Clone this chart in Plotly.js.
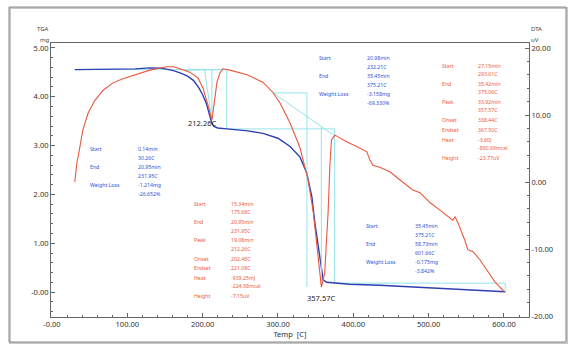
<!DOCTYPE html>
<html><head><meta charset="utf-8">
<script src="https://cdn.plot.ly/plotly-3.0.1.min.js"></script>
<style>html,body{margin:0;padding:0;background:#fff}#chart{width:577px;height:353px}</style>
</head><body><div id="chart"></div>
<script>
// ---------------- data ----------------
const tgaTemp = [30.3, 60, 90, 110, 130, 145, 160, 170, 180, 188, 195, 200, 205, 209, 212, 215, 220, 232, 260, 280, 300, 316, 329, 338, 345, 349, 353.5, 358, 360, 364.6, 375, 395, 435, 485, 550, 601.7];
const tgaMass = [4.555, 4.556, 4.558, 4.57, 4.59, 4.585, 4.54, 4.49, 4.42, 4.33, 4.18, 4.04, 3.86, 3.65, 3.47, 3.39, 3.36, 3.341, 3.30, 3.25, 3.15, 2.98, 2.77, 2.45, 1.95, 1.41, 0.93, 0.45, 0.25, 0.20, 0.183, 0.16, 0.14, 0.10, 0.04, 0.008];

const dtaTemp = [30.3, 31.5, 33, 37, 41, 48, 57, 68, 81, 94, 112, 130, 152, 161, 170, 183, 194, 200.5, 207, 212.3, 213.7, 216.4, 219, 223, 227, 236, 259, 280, 293, 302.7, 316, 329, 340, 347, 352, 355, 357.6, 362, 366.5, 369, 371, 375.7, 382, 391, 404.5, 418, 422, 426, 435, 449, 462, 479, 488.5, 502, 515, 528, 532, 535, 539, 548, 552, 559, 568, 577, 588, 600.5];
const dtaSignal = [0.0, 1.5, 2.8, 5.2, 7.8, 10.3, 12.2, 13.7, 14.8, 15.4, 16.1, 16.7, 17.2, 17.2, 16.9, 16.4, 15.5, 14.0, 11.5, 9.25, 10.4, 13.0, 14.9, 16.3, 16.9, 16.7, 16.0, 14.9, 13.4, 11.8, 8.8, 5.2, 0.3, -4.6, -9.7, -13.6, -15.7, -13.6, -4.6, 2.8, 6.3, 7.0, 6.6, 6.0, 5.3, 4.5, 3.3, 2.5, 2.2, 1.5, 0.3, -1.2, -1.6, -3.1, -4.2, -5.4, -5.7, -5.2, -6.1, -8.7, -10.1, -10.4, -11.6, -13.1, -14.9, -16.4];

// TGA step analysis
const tgaInitialMass = 4.555;
const tgaStepStart = [30.26, 232.21, 375.21];
const tgaStepEnd = [231.95, 375.21, 601.66];
const tgaStepLoss = [1.214, 3.158, 0.175];

// DTA peak analysis
const dtaPeakStart = [175.68, 293.61];
const dtaPeakEnd = [231.95, 375.06];
const dtaPeakTemp = [212.26, 357.57];
const dtaPeakOnset = [202.48, 338.44];
const dtaPeakLabels = ["212.26C", "357.57C"];

// tick labels
const xTickVals = [0, 100, 200, 300, 400, 500, 600];
const xTickText = ["-0.00", "100.00", "200.00", "300.00", "400.00", "500.00", "600.00"];
const yTickVals = [0, 1, 2, 3, 4, 5];
const yTickText = ["-0.00", "1.00", "2.00", "3.00", "4.00", "5.00"];
const y2TickVals = [-20, -10, 0, 10, 20];
const y2TickText = ["-20.00", "-10.00", "0.00", "10.00", "20.00"];

// result tables
const tableTga1Labels = ["Start", "", "End", "", "Weight Loss", ""];
const tableTga1Values = ["0.14min", "30.26C", "20.95min", "231.95C", "-1.214mg", "-26.652%"];
const tableTga2Labels = ["Start", "", "End", "", "Weight Loss", ""];
const tableTga2Values = ["20.98min", "232.21C", "35.45min", "375.21C", "-3.158mg", "-69.330%"];
const tableTga3Labels = ["Start", "", "End", "", "Weight Loss", ""];
const tableTga3Values = ["35.45min", "375.21C", "58.73min", "601.66C", "-0.175mg", "-3.842%"];
const tableDta1Labels = ["Start", "", "End", "", "Peak", "", "Onset", "Endset", "Heat", "", "Height"];
const tableDta1Values = ["15.34min", "175.68C", "20.95min", "231.95C", "19.08min", "212.26C", "202.48C", "221.08C", "-939.25mJ", "-224.38mcal", "-7.15uV"];
const tableDta2Labels = ["Start", "", "End", "", "Peak", "", "Onset", "Endset", "Heat", "", "Height"];
const tableDta2Values = ["27.15min", "293.61C", "35.42min", "375.06C", "33.92min", "357.57C", "338.44C", "367.50C", "-3.60J", "-860.69mcal", "-23.77uV"];

// ---------------- layout helpers ----------------
const PL = 51, PR = 529, PT = 43, PB = 317;
const px = x => (x - PL) / (PR - PL);
const py = y => (PB - y) / (PB - PT);
const BLUE_TXT = '#2a52d6', RED_TXT = '#ee5a40';
const FONT = 'Noto Sans, Liberation Sans, Arial, sans-serif';

function dtaAt(t) {
  for (let i = 0; i < dtaTemp.length - 1; i++) {
    if (t >= dtaTemp[i] && t <= dtaTemp[i + 1]) {
      const f = (t - dtaTemp[i]) / (dtaTemp[i + 1] - dtaTemp[i]);
      return dtaSignal[i] + f * (dtaSignal[i + 1] - dtaSignal[i]);
    }
  }
  return dtaSignal[dtaSignal.length - 1];
}

// guide lines: TGA steps
const gTx = [], gTy = [];
let m = tgaInitialMass;
for (let i = 0; i < tgaStepStart.length; i++) {
  const m2 = m - tgaStepLoss[i];
  gTx.push(tgaStepStart[i], tgaStepEnd[i], tgaStepEnd[i], null);
  gTy.push(m, m, m2, null);
  m = m2;
}
// guide lines: DTA peaks
const gDx = [], gDy = [];
const peakVals = [];
for (let i = 0; i < dtaPeakTemp.length; i++) {
  const b0 = dtaAt(dtaPeakStart[i]), b1 = dtaAt(dtaPeakEnd[i]);
  const pv = dtaAt(dtaPeakTemp[i]);
  peakVals.push(pv);
  const bp = b0 + (b1 - b0) * (dtaPeakTemp[i] - dtaPeakStart[i]) / (dtaPeakEnd[i] - dtaPeakStart[i]);
  const bo = b0 + (b1 - b0) * (dtaPeakOnset[i] - dtaPeakStart[i]) / (dtaPeakEnd[i] - dtaPeakStart[i]);
  gDx.push(dtaPeakStart[i], dtaPeakEnd[i], null);
  gDy.push(b0, b1, null);
  gDx.push(dtaPeakTemp[i], dtaPeakTemp[i], null);
  gDy.push(bp, pv, null);
  if (i === 0) {
    gDx.push(dtaPeakOnset[i], dtaPeakTemp[i], null);
    gDy.push(bo, pv, null);
  } else {
    gDx.push(dtaPeakStart[i], dtaPeakOnset[i], dtaPeakOnset[i], null);
    gDy.push(b0, b0, pv, null);
  }
}

const GUIDE = '#93e4ea';
const traces = [
  {x: gTx, y: gTy, mode: 'lines', line: {color: GUIDE, width: 1}, hoverinfo: 'skip', yaxis: 'y'},
  {x: gDx, y: gDy, mode: 'lines', line: {color: GUIDE, width: 1}, hoverinfo: 'skip', yaxis: 'y2'},
  {x: dtaTemp, y: dtaSignal, mode: 'lines', line: {color: '#e9573f', width: 1.1}, yaxis: 'y2', name: 'DTA'},
  {x: tgaTemp, y: tgaMass, mode: 'lines', line: {color: '#2f3fb2', width: 1.4}, yaxis: 'y', name: 'TGA'}
];

// annotations
const annotations = [];
function addTable(labels, values, lx, vx, y0, color) {
  let y = y0;
  for (let i = 0; i < labels.length; i++) {
    if (i > 0) y += (labels[i] === '' ? 8.5 : 9.7);
    if (labels[i]) annotations.push({xref: 'paper', yref: 'paper', x: px(lx), y: py(y), xanchor: 'left', yanchor: 'middle', text: labels[i], showarrow: false, font: {family: FONT, size: 5.2, color: color}});
    annotations.push({xref: 'paper', yref: 'paper', x: px(vx), y: py(y), xanchor: 'left', yanchor: 'middle', text: values[i], showarrow: false, font: {family: FONT, size: 5.2, color: color}});
  }
}
addTable(tableTga1Labels, tableTga1Values, 88, 136, 149, BLUE_TXT);
addTable(tableTga2Labels, tableTga2Values, 317, 365, 58, BLUE_TXT);
addTable(tableTga3Labels, tableTga3Values, 364, 413, 226, BLUE_TXT);
addTable(tableDta1Labels, tableDta1Values, 192, 229, 204, RED_TXT);
addTable(tableDta2Labels, tableDta2Values, 440, 476, 65.5, RED_TXT);

annotations.push({xref: 'x', yref: 'y2', x: dtaPeakTemp[0], y: peakVals[0], xanchor: 'right', yanchor: 'middle', xshift: 6, yshift: -3, text: dtaPeakLabels[0], showarrow: false, font: {family: FONT, size: 7.5, color: '#222'}});
annotations.push({xref: 'x', yref: 'y2', x: dtaPeakTemp[1], y: peakVals[1], xanchor: 'center', yanchor: 'middle', yshift: -11, text: dtaPeakLabels[1], showarrow: false, font: {family: FONT, size: 7.5, color: '#222'}});

// axis unit titles
const unitFont = {family: FONT, size: 6, color: '#444'};
annotations.push({xref: 'paper', yref: 'paper', x: px(50), y: py(34), xanchor: 'right', yanchor: 'bottom', text: 'TGA', showarrow: false, font: unitFont, borderpad: 0});
annotations.push({xref: 'paper', yref: 'paper', x: px(50.5), y: py(35), xanchor: 'right', yanchor: 'top', text: 'mg', showarrow: false, font: unitFont, borderpad: 0});
annotations.push({xref: 'paper', yref: 'paper', x: px(530), y: py(34), xanchor: 'left', yanchor: 'bottom', text: 'DTA', showarrow: false, font: unitFont, borderpad: 0});
annotations.push({xref: 'paper', yref: 'paper', x: px(530), y: py(35), xanchor: 'left', yanchor: 'top', text: 'uV', showarrow: false, font: unitFont, borderpad: 0});

const axisCommon = {
  showgrid: false, zeroline: false, showline: true, linecolor: '#666', linewidth: 1,
  ticks: 'inside', ticklen: 4, tickcolor: '#666', tickwidth: 1,
  tickfont: {family: FONT, size: 7.5, color: '#333'}, fixedrange: true
};

const layout = {
  width: 577, height: 353,
  margin: {l: PL, r: 577 - PR, t: PT, b: 353 - PB, autoexpand: false},
  paper_bgcolor: '#fff', plot_bgcolor: '#fff',
  showlegend: false,
  font: {family: FONT},
  xaxis: Object.assign({}, axisCommon, {
    range: [-1.3, 633.2], tickmode: 'array', tickvals: xTickVals, ticktext: xTickText,
    mirror: true,
    minor: {dtick: 20, ticks: 'inside', ticklen: 2, tickcolor: '#666'},
    title: {text: 'Temp  [C]', font: {family: FONT, size: 7.5, color: '#333'}, standoff: 1}
  }),
  yaxis: Object.assign({}, axisCommon, {
    range: [-0.51, 5.1], tickmode: 'array', tickvals: yTickVals, ticktext: yTickText,
    minor: {dtick: 0.2, ticks: 'inside', ticklen: 2, tickcolor: '#666'}
  }),
  yaxis2: Object.assign({}, axisCommon, {
    overlaying: 'y', side: 'right', range: [-20.15, 20.75], tickmode: 'array', tickvals: y2TickVals, ticktext: y2TickText,
    minor: {dtick: 2, ticks: 'inside', ticklen: 2, tickcolor: '#666'}
  }),
  annotations: annotations,
  shapes: [
    {type: 'rect', xref: 'paper', yref: 'paper', x0: px(10), x1: px(567), y0: py(343), y1: py(8), line: {color: '#c8c8c8', width: 2}},
    {type: 'rect', xref: 'paper', yref: 'paper', x0: px(9), x1: px(566), y0: py(342), y1: py(7), line: {color: '#8a8a8a', width: 1}}
  ]
};

Plotly.newPlot('chart', traces, layout, {staticPlot: true, displayModeBar: false});
</script>
</body></html>
